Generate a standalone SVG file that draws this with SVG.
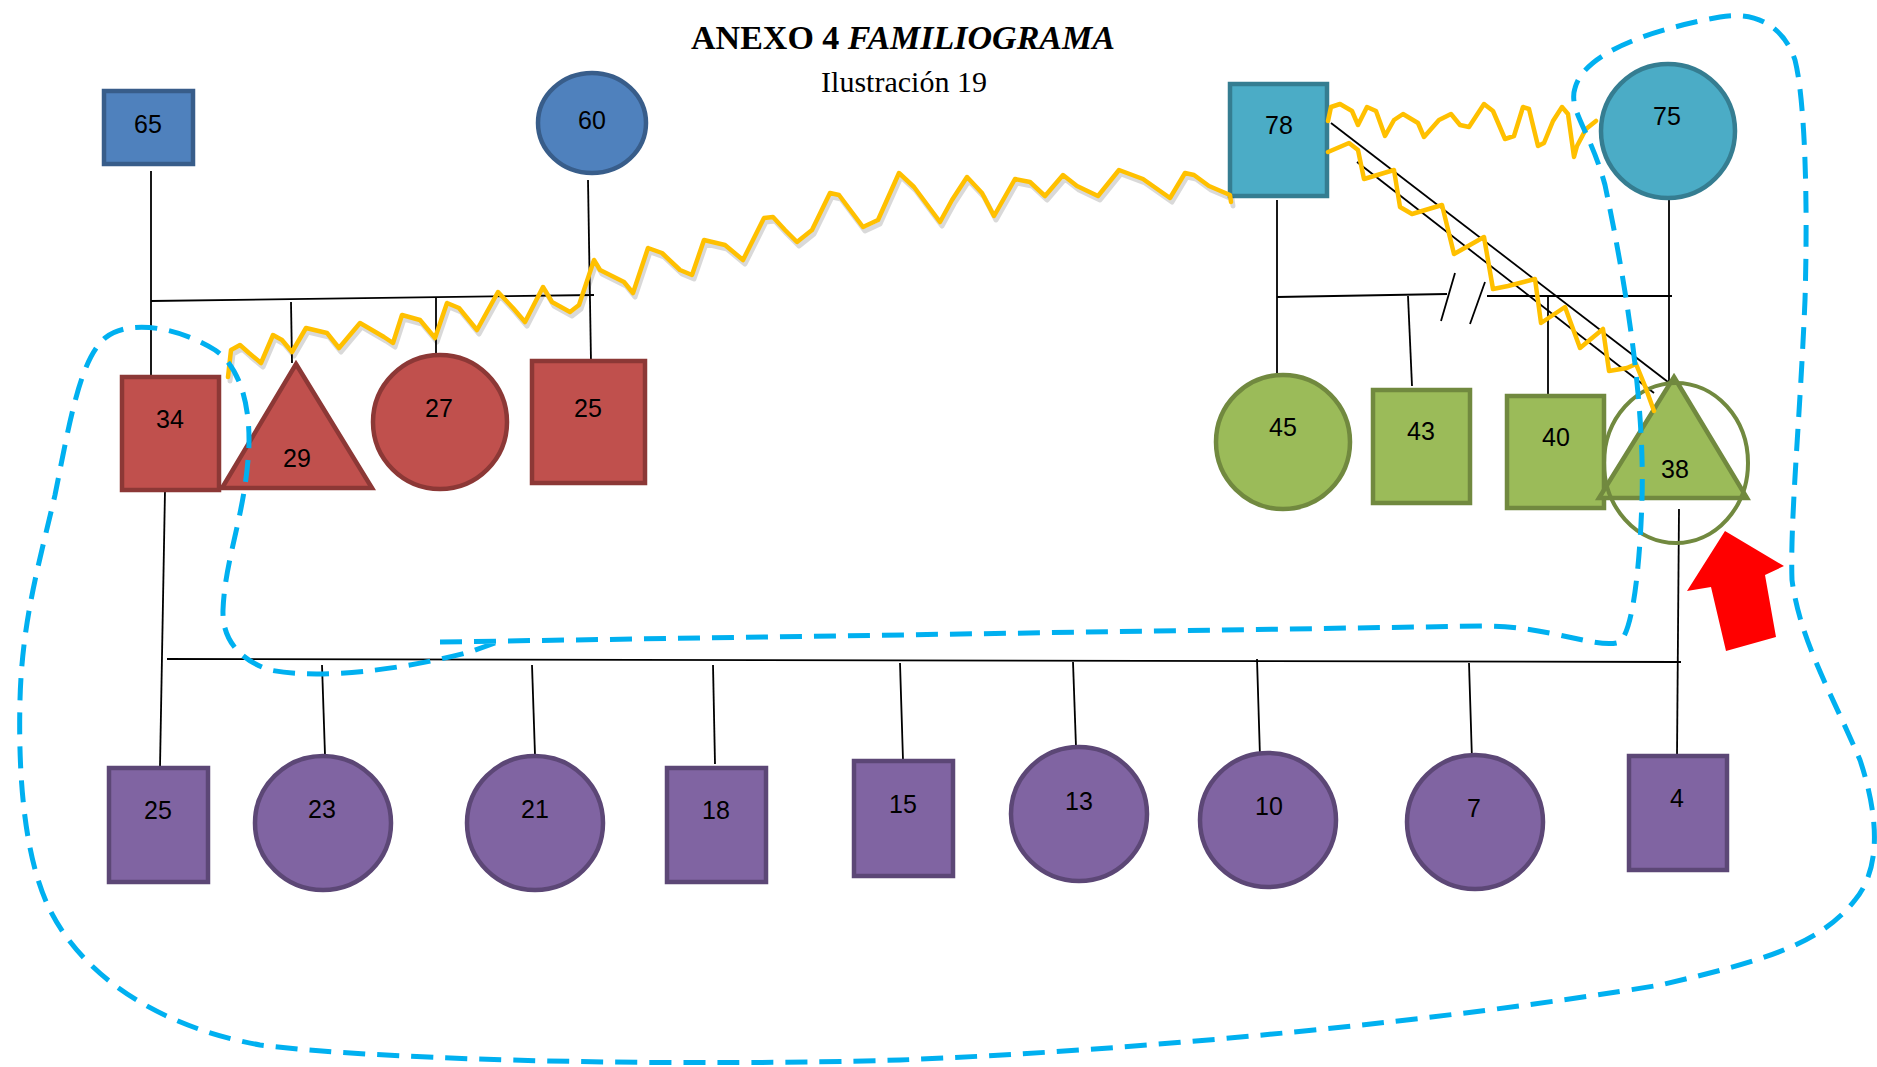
<svg xmlns="http://www.w3.org/2000/svg" width="1877" height="1067" viewBox="0 0 1877 1067">
<style>
.lbl{font-family:"Liberation Sans",Arial,sans-serif;font-size:25px;fill:#000;text-anchor:middle}
.ln{stroke:#000;stroke-width:1.8;fill:none}
.blue{fill:#4F81BD;stroke:#385D8A;stroke-width:4.5}
.red{fill:#C0504D;stroke:#8C3836;stroke-width:4.5}
.teal{fill:#4BACC6;stroke:#357D91;stroke-width:4.5}
.green{fill:#9BBB59;stroke:#71893F;stroke-width:4.5}
.purple{fill:#8064A2;stroke:#5C4776;stroke-width:4.5}
.sq{fill:none;stroke:#FFC000;stroke-width:4.5;stroke-linejoin:round;stroke-linecap:round}
.sqs{fill:none;stroke:#000;stroke-opacity:0.15;stroke-width:5;stroke-linejoin:round;stroke-linecap:round}
.dash{fill:none;stroke:#00B0F0;stroke-width:5;stroke-dasharray:22 12}
</style>
<rect width="1877" height="1067" fill="#fff"/>
<g id="title">
<text x="903" y="49" text-anchor="middle" font-family="'Liberation Serif','Times New Roman',serif" font-size="34" font-weight="bold">ANEXO 4 <tspan font-style="italic">FAMILIOGRAMA</tspan></text>
<text x="904" y="92" text-anchor="middle" font-family="'Liberation Serif','Times New Roman',serif" font-size="30">Ilustración 19</text>
</g>
<g id="connectors">
<path class="ln" d="M151,171 L151,377"/>
<path class="ln" d="M151,301 L594,295" stroke-width="2.4"/>
<path class="ln" d="M291,302 L292,363"/>
<path class="ln" d="M436,298 L436,354"/>
<path class="ln" d="M588,180 L591,362"/>
<path class="ln" d="M165,490 L160,767"/>
<path class="ln" d="M167,659 L1681,662" stroke-width="2.4"/>
<path class="ln" d="M322,665 L325,755"/>
<path class="ln" d="M532,665 L535,755"/>
<path class="ln" d="M713,665 L715,764"/>
<path class="ln" d="M900,663 L903,760"/>
<path class="ln" d="M1073,662 L1076,747"/>
<path class="ln" d="M1257,659 L1260,757"/>
<path class="ln" d="M1469,663 L1472,760"/>
<path class="ln" d="M1679,509 L1677,756"/>
<path class="ln" d="M1277,200 L1277,377"/>
<path class="ln" d="M1277,297 L1447,294" stroke-width="2.4"/>
<path class="ln" d="M1487,296 L1672,296" stroke-width="2.4"/>
<path class="ln" d="M1408,296 L1412,386"/>
<path class="ln" d="M1548,296 L1548,396"/>
<path class="ln" d="M1669,200 L1669,382"/>
<path class="ln" d="M1455,273 L1441,321"/>
<path class="ln" d="M1485,282 L1470,324"/>
<path class="ln" d="M1331,123 L1668,382"/>
<path class="ln" d="M1357,162 L1654,393"/>
</g>
<g id="n65"><rect class="blue" x="104" y="91" width="89" height="73"/><text class="lbl" x="148" y="133">65</text></g>
<g id="n60"><ellipse class="blue" cx="592" cy="123" rx="54" ry="50"/><text class="lbl" x="592" y="129">60</text></g>
<g id="n78"><rect class="teal" x="1230" y="84" width="97" height="112"/><text class="lbl" x="1279" y="134">78</text></g>
<g id="n75"><ellipse class="teal" cx="1668" cy="131" rx="67" ry="67"/><text class="lbl" x="1667" y="125">75</text></g>
<g id="n34"><rect class="red" x="122" y="377" width="97" height="113"/><text class="lbl" x="170" y="428">34</text></g>
<g id="n29"><polygon class="red" points="296,364 372,488 222,488"/><text class="lbl" x="297" y="467">29</text></g>
<g id="n27"><ellipse class="red" cx="440" cy="422" rx="67" ry="67"/><text class="lbl" x="439" y="417">27</text></g>
<g id="n25a"><rect class="red" x="532" y="361" width="113" height="122"/><text class="lbl" x="588" y="417">25</text></g>
<g id="n45"><ellipse class="green" cx="1283" cy="442" rx="67" ry="67"/><text class="lbl" x="1283" y="436">45</text></g>
<g id="n43"><rect class="green" x="1373" y="390" width="97" height="113"/><text class="lbl" x="1421" y="440">43</text></g>
<g id="n40"><rect class="green" x="1507" y="396" width="97" height="112"/><text class="lbl" x="1556" y="446">40</text></g>
<g id="n38"><polygon class="green" points="1674,377 1747,498 1599,498"/><ellipse cx="1676" cy="463" rx="72" ry="80" fill="none" stroke="#71893F" stroke-width="4"/><text class="lbl" x="1675" y="478">38</text></g>
<g id="n25b"><rect class="purple" x="109" y="768" width="99" height="114"/><text class="lbl" x="158" y="819">25</text></g>
<g id="n23"><ellipse class="purple" cx="323" cy="823" rx="68" ry="67"/><text class="lbl" x="322" y="818">23</text></g>
<g id="n21"><ellipse class="purple" cx="535" cy="823" rx="68" ry="67"/><text class="lbl" x="535" y="818">21</text></g>
<g id="n18"><rect class="purple" x="667" y="768" width="99" height="114"/><text class="lbl" x="716" y="819">18</text></g>
<g id="n15"><rect class="purple" x="854" y="761" width="99" height="115"/><text class="lbl" x="903" y="813">15</text></g>
<g id="n13"><ellipse class="purple" cx="1079" cy="814" rx="68" ry="67"/><text class="lbl" x="1079" y="810">13</text></g>
<g id="n10"><ellipse class="purple" cx="1268" cy="820" rx="68" ry="67"/><text class="lbl" x="1269" y="815">10</text></g>
<g id="n7"><ellipse class="purple" cx="1475" cy="822" rx="68" ry="67"/><text class="lbl" x="1474" y="817">7</text></g>
<g id="n4"><rect class="purple" x="1629" y="756" width="98" height="114"/><text class="lbl" x="1677" y="807">4</text></g>
<g id="squiggles">
<polyline class="sqs" transform="translate(2,4)" points="228,377 231,350 240,345 249,353 261,363 273,335 282,340 292,352 306,328 327,333 339,348 360,323 384,337 393,343 402,315 420,320 435,338 447,303 459,308 477,330 498,292 513,308 525,322 543,287 552,302 570,312 579,305 594,260 600,270 624,282 633,293 648,248 662,253 680,270 692,275 704,240 725,245 743,260 764,218 773,217 785,230 797,242 812,230 830,193 839,195 863,227 878,220 899,173 914,187 940,222 952,200 967,177 982,193 994,216 1015,179 1030,182 1045,196 1063,175 1077,186 1098,196 1119,170 1143,179 1170,198 1185,173 1194,175 1209,186 1230,195 1231,202"/>
<polyline class="sq" points="228,377 231,350 240,345 249,353 261,363 273,335 282,340 292,352 306,328 327,333 339,348 360,323 384,337 393,343 402,315 420,320 435,338 447,303 459,308 477,330 498,292 513,308 525,322 543,287 552,302 570,312 579,305 594,260 600,270 624,282 633,293 648,248 662,253 680,270 692,275 704,240 725,245 743,260 764,218 773,217 785,230 797,242 812,230 830,193 839,195 863,227 878,220 899,173 914,187 940,222 952,200 967,177 982,193 994,216 1015,179 1030,182 1045,196 1063,175 1077,186 1098,196 1119,170 1143,179 1170,198 1185,173 1194,175 1209,186 1230,195 1231,202"/>
<polyline class="sq" points="1328,121 1331,107 1340,104 1352,111 1358,125 1367,107 1376,111 1385,136 1394,120 1403,114 1418,123 1424,137 1439,120 1451,114 1460,125 1469,127 1484,104 1493,111 1505,139 1514,136 1523,107 1529,109 1538,146 1544,143 1553,121 1562,107 1568,114 1574,157 1577,146 1586,129 1596,121"/>
<polyline class="sq" points="1328,152 1349,143 1358,150 1364,179 1394,170 1400,207 1412,214 1442,205 1454,254 1484,237 1493,289 1508,286 1535,279 1541,323 1565,307 1580,348 1603,329 1609,371 1627,368 1636,364 1645,386 1654,411"/>
</g>
<g id="arrow"><polygon points="1725,531 1784,566 1765,575 1776,637 1726,651 1711,587 1687,591" fill="#FF0000"/></g>
<g id="boundary">
<path class="dash" d="M440,642 L1484,626 C1550,626 1598,650 1620,642 C1634,628 1640,560 1642,500 C1645,400 1625,280 1605,185 C1590,130 1568,110 1575,88 C1585,50 1660,28 1720,17 C1760,10 1785,30 1795,60 C1805,100 1808,200 1805,300 C1800,420 1790,520 1792,580 C1800,640 1830,690 1860,760 C1880,820 1880,870 1855,900 C1820,945 1760,962 1660,985 C1450,1020 1150,1050 900,1060 C700,1066 400,1062 260,1045 C150,1025 80,970 50,910 C25,860 18,780 20,700 C22,620 40,560 55,495 C70,420 80,360 105,338 C130,318 180,328 215,350 C245,370 252,420 248,460 C243,520 225,560 223,610 C222,640 240,660 270,670 C320,680 400,670 470,652 L495,643"/>
</g>
</svg>
